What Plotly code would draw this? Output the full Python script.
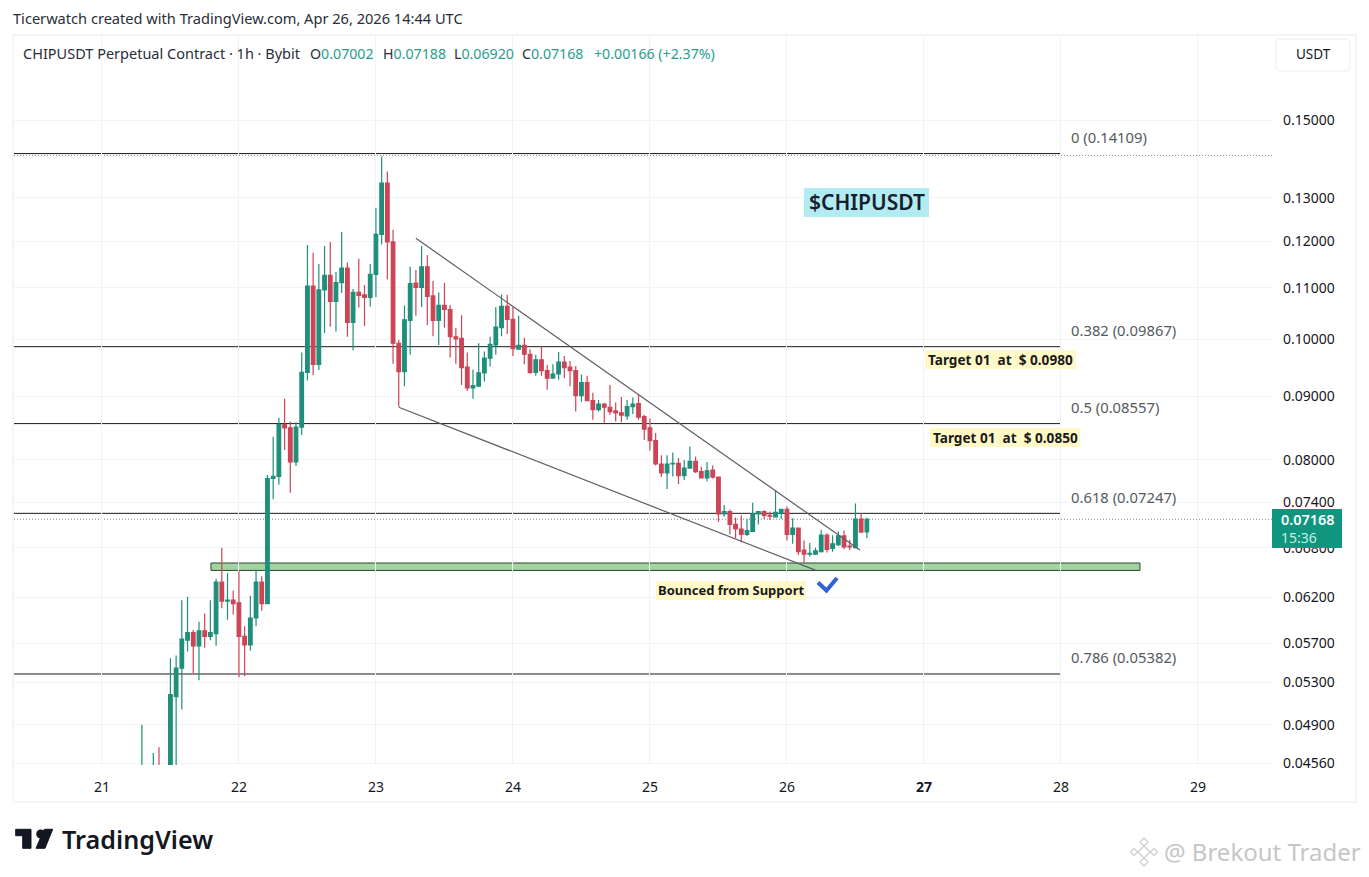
import math
import pandas as pd
import plotly.graph_objects as go

# hourly candles, one line per day: Apr 21 07h, Apr 22-25 full days, Apr 26 to 14h
opens = [
    .0440, .0447, .0443, .0450, .0446, .0449, .0516, .0544, .0573, .0581, .0567, .0583, .0577, .0580, .0638, .0616, .0617,
    .0614, .0577, .0568, .0597, .0638, .0613, .0773, .0776, .0854, .0849, .0797, .0850, .0941, .1104, .0955, .1096, .1126, .1073, .1111, .1141, .1032, .1091, .1086, .1081,
    .1128, .1215, .1336, .1198, .0993, .0942, .1036, .1110, .1101, .1144, .1084, .1036, .1065, .1057, .1005, .1002, .0950, .0914, .0917, .0940, .0966, .0990, .1022, .1063,
    .1038, .0982, .0989, .0973, .0941, .0963, .0944, .0931, .0938, .0959, .0950, .0944, .0901, .0923, .0893, .0878, .0887, .0882, .0876, .0873, .0868, .0883, .0888, .0867,
    .0849, .0829, .0794, .0781, .0794, .0795, .0777, .0788, .0798, .0783, .0774, .0785, .0775, .0724, .0727, .0710, .0704, .0697, .0701, .0724, .0727, .0722, .0720, .0725,
    .0730, .0697, .0705, .0677, .0672, .0672, .0675, .0696, .0679, .0684, .0695, .0682, .0680, .0717, .07002,
]
highs = [
    .0490, .0452, .0465, .0470, .0452, .0554, .0557, .0617, .0621, .0584, .0593, .0602, .0617, .0642, .0680, .0649, .0628,
    .0651, .0588, .0622, .0653, .0645, .0778, .0835, .0865, .0896, .0859, .0858, .0976, .1191, .1174, .1150, .1189, .1198, .1133, .1220, .1153, .1098, .1161, .1106, .1150,
    .1276, .1403, .1365, .1225, .0999, .1065, .1144, .1137, .1189, .1169, .1115, .1091, .1110, .1066, .1022, .1046, .0976, .0946, .0993, .0978, .1005, .1062, .1087, .1086,
    .1062, .1045, .1003, .0982, .0972, .0987, .0954, .0955, .0977, .0970, .0961, .0952, .0937, .0935, .0906, .0894, .0889, .0919, .0890, .0899, .0894, .0898, .0902, .0870,
    .0864, .0841, .0807, .0807, .0811, .0803, .0800, .0820, .0805, .0790, .0797, .0792, .0776, .0736, .0730, .0719, .0722, .0717, .0739, .0728, .0729, .0727, .0756, .0731,
    .0734, .0718, .0706, .0689, .0686, .0680, .0703, .0698, .0696, .0701, .0702, .0690, .0738, .0725, .07188,
]
lows = [
    .0436, .0440, .0440, .0442, .0443, .0445, .0450, .0504, .0561, .0539, .0532, .0565, .0573, .0567, .0608, .0595, .0601,
    .0535, .0536, .0562, .0588, .0605, .0613, .0744, .0764, .0815, .0753, .0791, .0838, .0927, .0936, .0945, .1012, .1024, .1015, .1090, .1005, .0980, .1061, .1025, .1063,
    .1082, .1192, .1118, .0956, .0883, .0917, .0972, .1045, .1062, .1027, .1006, .0990, .1022, .0967, .0956, .0919, .0909, .0896, .0917, .0925, .0951, .0972, .1006, .1010,
    .0970, .0982, .0955, .0938, .0935, .0935, .0911, .0930, .0928, .0931, .0917, .0875, .0891, .0893, .0862, .0875, .0857, .0870, .0859, .0858, .0862, .0871, .0862, .0830,
    .0814, .0792, .0775, .0758, .0776, .0765, .0771, .0788, .0781, .0773, .0769, .0773, .0713, .0720, .0697, .0692, .0687, .0695, .0700, .0710, .0717, .0716, .0719, .0717,
    .0689, .0685, .0671, .0661, .0669, .0671, .0674, .0674, .0675, .0682, .0678, .0677, .0679, .0699, .06920,
]
closes = [
    .0447, .0443, .0450, .0446, .0449, .0518, .0544, .0574, .0581, .0567, .0583, .0577, .0581, .0638, .0616, .0617, .0613,
    .0577, .0568, .0597, .0638, .0613, .0773, .0776, .0854, .0849, .0797, .0850, .0941, .1104, .0955, .1096, .1126, .1073, .1111, .1141, .1032, .1091, .1085, .1081, .1128,
    .1215, .1336, .1198, .0993, .0942, .1037, .1109, .1101, .1144, .1083, .1036, .1065, .1057, .1005, .1001, .0949, .0914, .0918, .0940, .0966, .0991, .1023, .1063, .1038,
    .0983, .0989, .0973, .0941, .0963, .0944, .0931, .0938, .0959, .0949, .0944, .0901, .0923, .0893, .0878, .0887, .0882, .0875, .0873, .0869, .0883, .0887, .0866, .0847,
    .0829, .0794, .0781, .0794, .0795, .0777, .0788, .0798, .0783, .0774, .0784, .0775, .0724, .0727, .0710, .0704, .0697, .0702, .0724, .0727, .0722, .0721, .0726, .0730,
    .0697, .0705, .0675, .0672, .0673, .0676, .0696, .0678, .0685, .0695, .0681, .0681, .0717, .0700, .07168,
]
times = pd.date_range("2026-04-21 07:00", periods=len(opens), freq="h")

price_ticks = [.15, .13, .12, .11, .10, .09, .08, .074, .068, .062, .057, .053, .049, .0456]
day_ticks = ["2026-04-21", "2026-04-22", "2026-04-23", "2026-04-24", "2026-04-25",
             "2026-04-26", "2026-04-27", "2026-04-28", "2026-04-29"]
day_labels = ["21", "22", "23", "24", "25", "26", "<b>27</b>", "28", "29"]

fib_names = ["0", "0.382", "0.5", "0.618", "0.786"]
fib_prices = [.14109, .09867, .08557, .07247, .05382]
fib_label_px = [137, 330, 407, 497, 657]

last_price = .07168
high_dotted = .1406
support_zone = [.0652, .0661]

W, H = 1369, 877
LEFT, RIGHT, TOP, BOTTOM = 14, 1272, 36, 765
X_START, X_END = "2026-04-20 08:36", "2026-04-29 12:58"
FONT = "Noto Sans"
GREEN = "#1f8f7c"
RED = "#cc4455"


# page pixels to paper coordinates, for the bits that sit outside the pane
def px(x):
    return (x - LEFT) / (RIGHT - LEFT)


def py(y):
    return (BOTTOM - y) / (BOTTOM - TOP)


def pt(x, y):
    return f"{px(x):.5f},{py(y):.5f}"


def page_text(x, y, text, size=14, color="#131722", anchor="left", weight=None):
    fig.add_annotation(
        xref="paper", yref="paper", x=px(x), y=py(y), text=text, showarrow=False,
        xanchor=anchor, yanchor="middle", borderpad=0,
        font=dict(family=FONT, size=size, color=color, weight=weight),
    )


def page_rect(x0, y0, x1, y1, fill, line="rgba(0,0,0,0)", layer="above"):
    fig.add_shape(type="rect", xref="paper", yref="paper", x0=px(x0), y0=py(y0), x1=px(x1), y1=py(y1),
                  fillcolor=fill, line=dict(color=line, width=1), layer=layer)


def page_path(points, color, width=1, fill=None, close=False):
    d = "M" + " L".join(pt(x, y) for x, y in points) + (" Z" if close else "")
    fig.add_shape(type="path", xref="paper", yref="paper", path=d, fillcolor=fill,
                  line=dict(color=color, width=width))


fig = go.Figure(go.Candlestick(
    x=times, open=opens, high=highs, low=lows, close=closes,
    increasing=dict(line=dict(color=GREEN, width=1.2), fillcolor=GREEN),
    decreasing=dict(line=dict(color=RED, width=1.2), fillcolor=RED),
    whiskerwidth=0, hoverinfo="skip",
))

fig.update_layout(
    width=W, height=H, showlegend=False, paper_bgcolor="white", plot_bgcolor="white",
    margin=dict(l=LEFT, r=W - RIGHT, t=TOP, b=H - BOTTOM),
    font=dict(family=FONT, size=14, color="#131722"),
    boxgap=0.1,
    xaxis=dict(
        type="date", range=[X_START, X_END], rangeslider=dict(visible=False),
        tickmode="array", tickvals=day_ticks, ticktext=day_labels, ticklabelstandoff=12,
        showgrid=True, gridcolor="#f2f3f7", gridwidth=1, zeroline=False, showline=False, ticks="",
    ),
    yaxis=dict(
        type="log", side="right", range=[math.log10(.15 * math.exp(-644.5 / 540)), math.log10(.15 * math.exp(84.5 / 540))],
        tickmode="array", tickvals=price_ticks, ticktext=[f"{v:.5f}" for v in price_ticks], ticklabelstandoff=10,
        showgrid=True, gridcolor="#f2f3f7", gridwidth=1, zeroline=False, showline=False, ticks="",
    ),
)

# frame round chart and price scale
page_rect(13, 35, 1356, 802, "rgba(0,0,0,0)", "#e9ebf0", layer="below")

# fib levels
for name, price, label_y in zip(fib_names, fib_prices, fib_label_px):
    fig.add_shape(type="line", xref="x", yref="y", x0=X_START, x1="2026-04-28 00:00", y0=price, y1=price,
                  line=dict(color="#1a1a1a", width=1), layer="below")
    page_text(1070, label_y, f"{name} ({price:.5f})", size=14.8, color="#555a60")

# dotted high / last price lines
fig.add_shape(type="line", xref="x", yref="y", x0=X_START, x1=X_END, y0=high_dotted, y1=high_dotted,
              line=dict(color="#8a8a8a", width=1, dash="1px,2px"), layer="below")
fig.add_shape(type="line", xref="x", yref="y", x0=X_START, x1=X_END, y0=last_price, y1=last_price,
              line=dict(color="#7d8a86", width=1, dash="1px,2px"), layer="below")

# support zone
fig.add_shape(type="rect", xref="x", yref="y", x0="2026-04-21 19:06", x1="2026-04-28 13:50",
              y0=support_zone[0], y1=support_zone[1], fillcolor="#a3d3a1",
              line=dict(color="#27472f", width=1), layer="below")

# wedge
fig.add_shape(type="line", xref="x", yref="y", x0="2026-04-23 07:00", y0=.1206, x1="2026-04-26 12:47", y1=.0677,
              line=dict(color="#5d5f66", width=1.2))
fig.add_shape(type="line", xref="x", yref="y", x0="2026-04-23 04:00", y0=.0882, x1="2026-04-26 05:05", y1=.0652,
              line=dict(color="#5d5f66", width=1.2))

# header text
page_text(12, 18, "Ticerwatch created with TradingView.com, Apr 26, 2026 14:44 UTC", size=14.6, color="#2a2e39")
page_text(22, 53, "CHIPUSDT Perpetual Contract · 1h · Bybit", size=14.5, color="#2a2e39")
for x, letter, value in [(309, "O", "0.07002"), (382, "H", "0.07188"), (453, "L", "0.06920"), (521, "C", "0.07168")]:
    page_text(x, 53, f"{letter}<span style='color:#2a9d8f'>{value}</span>", size=14.2, color="#2a2e39")
page_text(593, 53, "+0.00166 (+2.37%)", size=14.2, color="#2a9d8f")

# USDT button
x0, y0, x1, y1, r = 1276, 39, 1350, 71, 5
fig.add_shape(type="path", xref="paper", yref="paper", line=dict(color="#eceef2", width=1), fillcolor="white",
              path=f"M{pt(x0 + r, y0)} L{pt(x1 - r, y0)} Q{pt(x1, y0)} {pt(x1, y0 + r)} L{pt(x1, y1 - r)} "
                   f"Q{pt(x1, y1)} {pt(x1 - r, y1)} L{pt(x0 + r, y1)} Q{pt(x0, y1)} {pt(x0, y1 - r)} "
                   f"L{pt(x0, y0 + r)} Q{pt(x0, y0)} {pt(x0 + r, y0)} Z")
page_text(1295, 54, "USDT", size=13.5)

# last price tag
page_rect(1272, 509, 1342, 548, "#10957e")
page_text(1280, 519, "0.07168", size=14.4, color="white", weight=600)
page_text(1280, 537, "15:36", size=14, color="#c4f0e4")

# bottom of the price scale is cut off
page_rect(1276, 768, 1350, 776, "white")

# drawn labels
page_rect(804, 188, 929, 217, "#b2ebf2")
page_text(866.5, 202, "$CHIPUSDT", size=21, color="#16202c", anchor="center", weight=600)
page_rect(925, 350, 1076, 369, "#fff9c8")
page_text(1000.5, 359.5, "Target 01  at  $ 0.0980", size=13.6, color="#1a1a1a", anchor="center", weight=700)
page_rect(930, 428, 1080, 447, "#fff9c8")
page_text(1005, 437.5, "Target 01  at  $ 0.0850", size=13.6, color="#1a1a1a", anchor="center", weight=700)
page_rect(656, 581, 806, 600, "#fff9c8")
page_text(730.5, 590, "Bounced from Support", size=13, color="#1a1a1a", anchor="center", weight=700)
page_path([(818, 582.5), (826.5, 590.5), (837, 578)], "#2f62d6", width=4)

# TradingView logo
page_path([(15.7, 829.3), (31, 829.3), (31, 848.3), (22.7, 848.3), (22.7, 835.7), (15.7, 835.7)], "#131722", fill="#131722", close=True)
fig.add_shape(type="circle", xref="paper", yref="paper", x0=px(36.2), x1=px(45.2), y0=py(829.5), y1=py(838.5),
              fillcolor="#131722", line=dict(width=0))
page_path([(44.3, 829.3), (52.7, 829.3), (45, 848.3), (36, 848.3)], "#131722", fill="#131722", close=True)
page_text(61, 838.5, "TradingView", size=25.2, color="#131722", weight=600)

# watermark
for cx, cy, s in [(1144, 852, 6), (1144, 842, 4), (1144, 862, 4), (1134, 852, 3.5), (1154, 852, 3.5)]:
    page_path([(cx, cy - s), (cx + s, cy), (cx, cy + s), (cx - s, cy)], "#d0d0d0", width=1.3, close=True)
page_text(1163, 851.5, "@ Brekout Trader", size=24, color="#c6c6c6")

fig.write_html("out.html", config=dict(displayModeBar=False),
               post_script="document.body.style.margin='0';document.body.style.overflow='hidden';")
